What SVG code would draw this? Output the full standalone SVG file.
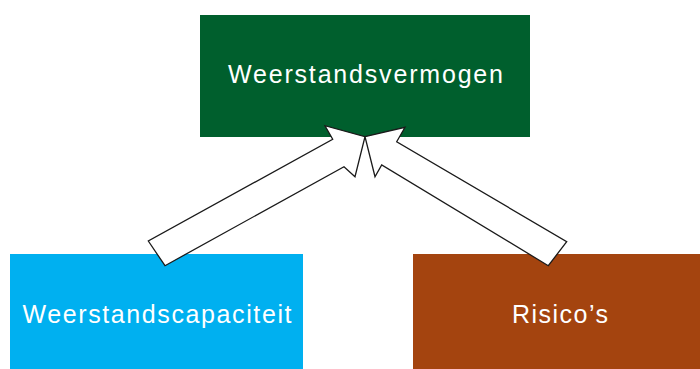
<svg xmlns="http://www.w3.org/2000/svg" width="700" height="369" viewBox="0 0 700 369">
<style>
.lbl{font-family:"Liberation Sans",Arial,sans-serif;font-size:25px;fill:#ffffff;text-anchor:middle}
.arr{fill:#ffffff;stroke:#1a1a1a;stroke-width:1.3;stroke-linejoin:miter}
</style>
<rect width="700" height="369" fill="#ffffff"/>
<g id="weerstandsvermogen">
<rect x="200" y="15" width="330" height="122" fill="#005f2d"/>
<text class="lbl" x="365.5" y="83" textLength="275" lengthAdjust="spacing">Weerstandsvermogen</text>
</g>
<g id="weerstandscapaciteit">
<rect x="10" y="254" width="293" height="115" fill="#00b0f0"/>
<text class="lbl" x="157" y="323" textLength="269" lengthAdjust="spacing">Weerstandscapaciteit</text>
</g>
<g id="risicos">
<rect x="413" y="254" width="287" height="115" fill="#a4440f"/>
<text class="lbl" x="560" y="323" textLength="96" lengthAdjust="spacing">Risico’s</text>
</g>
<g id="connectors">
<polygon class="arr" points="148.3,241 165,265.7 344,166.7 355,176.7 365,136.7 325,125.7 332.7,139.3"/>
<polygon class="arr" points="365,136.7 405,127.3 396.7,141.7 566.7,241.7 548.3,265.7 381.7,165 375,176.7"/>
</g>
</svg>
